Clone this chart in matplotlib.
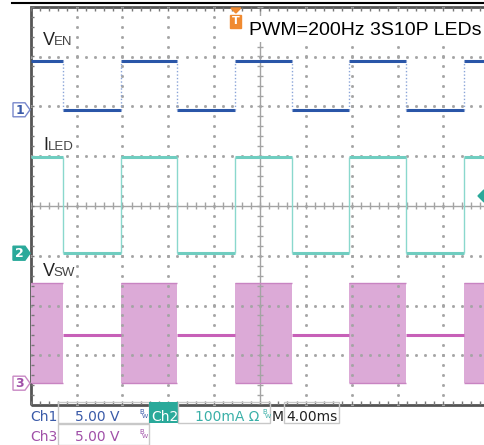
import matplotlib.pyplot as plt
import numpy as np
from matplotlib.patches import Rectangle, Polygon

# PWM dimming capture, 4 ms/div
t_edges = [2.84, 7.85, 12.79, 17.85, 22.80, 27.80, 32.74, 37.78]  # ms, EN transitions (starts high)
ven_levels = [4.85, 0.0]      # V, high / low
iled_levels = [193.0, 0.0]    # mA, on / off
vsw_burst = [0.0, 10.1]       # V, switching envelope
vsw_idle = 4.85               # V, switch node when off
trig_time = 17.9              # ms
trig_level = 0.2              # div

# channel settings: (offset in div, units per div)
ch1 = (1.93, 5.0)
ch2 = (-0.95, 100.0)
ch3 = (-3.56, 5.0)

W, H = 484, 445
X0, Y0 = 30.7, 6.7      # top-left of screen grid in px
DX, DY = 45.85, 49.8    # px per division

fig = plt.figure(figsize=(W / 100, H / 100), dpi=100)
ax = fig.add_axes([X0 / W, 1 - (Y0 + 8 * DY) / H, 10 * DX / W, 8 * DY / H])
ax.set_xlim(0, 40)
ax.set_ylim(-4, 4)
ax.axis('off')

def div(v, ch):
    return ch[0] + v / ch[1]

# graticule
grid_c = '#a4a4a4'
xs_minor = np.arange(0, 40.01, 0.8)
ys_minor = np.arange(-4, 4.01, 0.2)
for i in range(1, 10):
    if i != 5:
        ax.plot([4 * i] * len(ys_minor), ys_minor, ls='none', marker='s', ms=1.0, color=grid_c)
for j in range(-3, 4):
    if j != 0:
        ax.plot(xs_minor, [j] * len(xs_minor), ls='none', marker='s', ms=1.0, color=grid_c)
ax.axhline(0, color=grid_c, lw=1)
ax.axvline(20, color=grid_c, lw=1)
ax.vlines(xs_minor, -0.07, 0.07, color=grid_c, lw=1)
ax.hlines(ys_minor, 20 - 0.28, 20 + 0.28, color=grid_c, lw=1)
ax.vlines(xs_minor, 4 - 0.09, 4, color='#777777', lw=1)
ax.vlines(xs_minor, -4, -4 + 0.09, color='#777777', lw=1)
ax.hlines(ys_minor, 0, 0.3, color='#777777', lw=1)
ax.add_patch(Rectangle((0, -4), 40, 8, fill=False, edgecolor='#555555', lw=2, clip_on=False))

bounds = [0.0] + t_edges + [40.0]
segs = [(bounds[k], bounds[k + 1], k % 2 == 0) for k in range(len(bounds) - 1)]

# VEN
for a, b, hi in segs:
    ax.hlines(div(ven_levels[0] if hi else ven_levels[1], ch1), a, b, color='#2a56a8', lw=2.2)
ax.vlines(t_edges, div(ven_levels[1], ch1), div(ven_levels[0], ch1), color='#8aa4d8', lw=1, linestyles=(0, (1, 1.5)))

# ILED
for a, b, hi in segs:
    ax.hlines(div(iled_levels[0] if hi else iled_levels[1], ch2), a, b, color='#6fcdc0', lw=2.2)
ax.vlines(t_edges, div(iled_levels[1], ch2), div(iled_levels[0], ch2), color='#8ad8cd', lw=1)

# VSW
for a, b, hi in segs:
    if hi:
        ax.fill_between([a, b], div(vsw_burst[0], ch3), div(vsw_burst[1], ch3),
                        color='#dcaad7', lw=0)
        ax.hlines([div(vsw_burst[0], ch3), div(vsw_burst[1], ch3)], a, b, color='#c884c2', lw=1)
    else:
        ax.hlines(div(vsw_idle, ch3), a, b, color='#c760b8', lw=2.2)

# overlay in pixel coordinates
ov = fig.add_axes([0, 0, 1, 1])
ov.set_xlim(0, W)
ov.set_ylim(H, 0)
ov.axis('off')
ov.patch.set_alpha(0)
ov.set_zorder(3)

ov.plot([12, W], [2.7, 2.7], color='black', lw=1.5)

def px_y(v):
    return Y0 + (4 - v) * DY

# trace labels
lab_c = '#222222'
ov.text(43, 45, 'V', fontsize=13, family='Liberation Sans', color=lab_c, va='baseline')
ov.text(53.5, 45, 'EN', fontsize=9.5, family='Liberation Sans', color='#444444', va='baseline')
ov.text(43, 150, 'I', fontsize=13, family='Liberation Sans', color=lab_c, va='baseline')
ov.text(48, 150, 'LED', fontsize=9.5, family='Liberation Sans', color='#444444', va='baseline')
ov.text(43, 276, 'V', fontsize=13, family='Liberation Sans', color=lab_c, va='baseline')
ov.text(53.5, 276, 'SW', fontsize=9.5, family='Liberation Sans', color='#444444', va='baseline')

# title
ov.add_patch(Rectangle((246, 16), 238, 26, facecolor='white', edgecolor='none'))
ov.text(249, 35, 'PWM=200Hz 3S10P LEDs', fontsize=14, family='Liberation Sans',
        color='black', va='baseline')

# trigger position marker
tx = X0 + trig_time / 4 * DX
ov.add_patch(Polygon([[tx - 5, 8], [tx + 5, 8], [tx, 13]], color='#f08a30'))
ov.add_patch(Rectangle((tx - 5.5, 15), 11, 13, color='#f08a30'))
ov.text(tx, 21.5, 'T', fontsize=8, color='white', ha='center', va='center', weight='bold')

# trigger level marker
ty = px_y(trig_level)
ov.add_patch(Polygon([[478, ty], [484, ty - 6], [490, ty], [484, ty + 6]], color='#2aa99a'))

# channel markers
def ch_marker(y, label, edge, fill, txt):
    pts = [[13, y - 7], [25, y - 7], [30, y], [25, y + 7], [13, y + 7]]
    ov.add_patch(Polygon(pts, facecolor=fill, edgecolor=edge, lw=1))
    ov.text(19.5, y + 0.5, label, fontsize=9, color=txt, ha='center', va='center', weight='bold')

ch_marker(px_y(ch1[0]), '1', '#7888cc', 'white', '#3a5aa8')
ch_marker(px_y(ch2[0]), '2', '#2aa99a', '#2aa99a', 'white')
ch_marker(px_y(ch3[0]), '3', '#c888c4', 'white', '#a050a8')

# status bar
box_c = '#c8c8c8'
ov.add_patch(Rectangle((58, 402), 91, 21, fill=False, edgecolor=box_c, lw=1))
ov.add_patch(Rectangle((58, 424), 91, 21, fill=False, edgecolor=box_c, lw=1))
ov.add_patch(Rectangle((149, 402), 29, 21, facecolor='#2aa99a', edgecolor='none'))
ov.add_patch(Rectangle((178, 402), 92, 21, fill=False, edgecolor=box_c, lw=1))
ov.add_patch(Rectangle((284, 402), 55, 21, fill=False, edgecolor=box_c, lw=1))

ov.text(30, 421, 'Ch1', fontsize=10, color='#3a5aa8', va='baseline')
ov.text(75, 421, '5.00 V', fontsize=10, color='#3a5aa8', va='baseline')
ov.text(151, 421, 'Ch2', fontsize=10, color='white', va='baseline')
ov.text(195, 421, '100mA \u03a9', fontsize=10, color='#3ab0a8', va='baseline')
ov.text(272, 421, 'M', fontsize=10, color='#222222', va='baseline')
ov.text(286, 421, '4.00ms', fontsize=10, color='#222222', va='baseline')
ov.text(30, 441, 'Ch3', fontsize=10, color='#a050a8', va='baseline')
ov.text(75, 441, '5.00 V', fontsize=10, color='#a050a8', va='baseline')
for bx, by, c in [(139, 414, '#3a5aa8'), (139, 434, '#a050a8'), (262, 414, '#3ab0a8')]:
    ov.text(bx, by, 'B', fontsize=5, color=c, va='baseline')
    ov.text(bx + 3, by + 4, 'W', fontsize=4.5, color=c, va='baseline')

fig.savefig('out.png', dpi=100, facecolor='white')
